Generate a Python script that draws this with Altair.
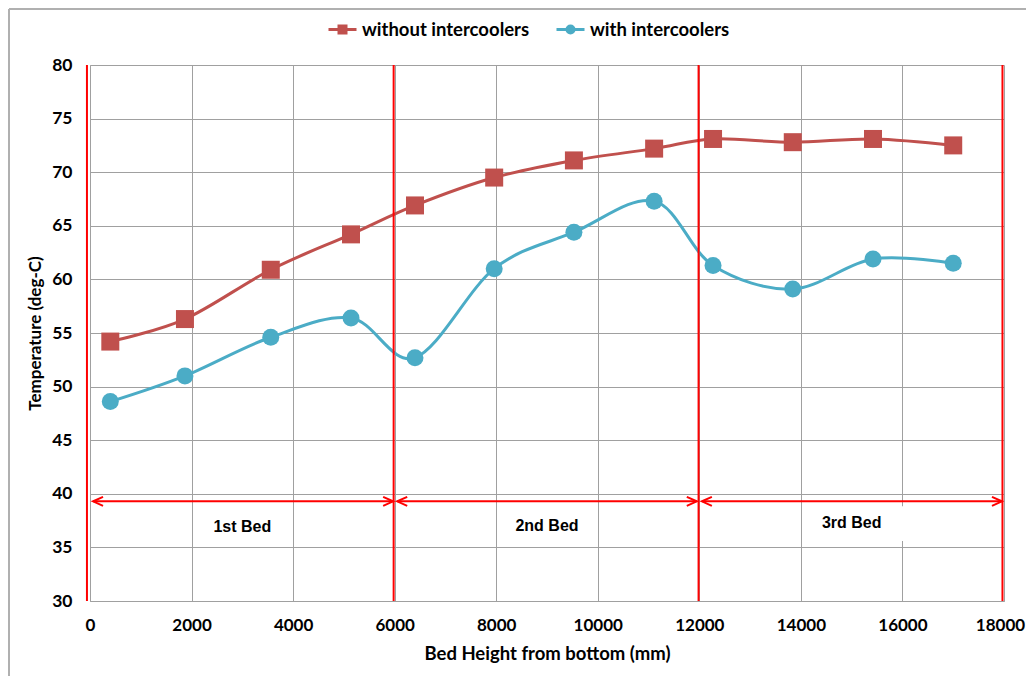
import altair as alt
import pandas as pd

# ---- data ----
height_mm = [400, 1870, 3560, 5140, 6400, 7960, 9530, 11110, 12270, 13840, 15420, 17000]
temp_without = [54.2, 56.3, 60.9, 64.2, 66.9, 69.5, 71.1, 72.2, 73.1, 72.8, 73.1, 72.5]
temp_with = [48.6, 51.0, 54.6, 56.4, 52.7, 61.0, 64.4, 67.3, 61.3, 59.1, 61.9, 61.5]
series_names = ["without intercoolers", "with intercoolers"]
series_colors = ["#C0504D", "#4BACC6"]

bed_bounds = [-60, 5980, 11985, 17970]
arrow_start = [60, 6050, 12050]
arrow_end = [5970, 11950, 17960]
arrow_level = 39.3
bed_labels = ["1st Bed", "2nd Bed", "3rd Bed"]
bed_label_x = [3000, 9000, 15000]
bed_label_y = [36.9, 37.0, 37.3]
box_x = [14250]
box_x2 = [16060]
box_y = [38.85]
box_y2 = [35.6]

x_ticks = list(range(0, 18001, 2000))
y_ticks = list(range(30, 81, 5))

# ---- tables ----
df = pd.DataFrame({
    "x": height_mm * 2,
    "y": temp_without + temp_with,
    "series": [series_names[0]] * len(height_mm) + [series_names[1]] * len(height_mm),
})
df_red = df[df.series == series_names[0]]
df_blue = df[df.series == series_names[1]]

df_bounds = pd.DataFrame({"x": bed_bounds, "y": [30] * 4, "y2": [80] * 4})
df_arrows = pd.DataFrame({"x": arrow_start, "x2": arrow_end, "y": [arrow_level] * 3})
df_labels = pd.DataFrame({"x": bed_label_x, "y": bed_label_y, "t": bed_labels})
df_box = pd.DataFrame({"x": box_x, "x2": box_x2, "y": box_y, "y2": box_y2})

GRID = "#A0A0A0"
RED = "#FF0000"

xs = alt.Scale(domain=[0, 18000], nice=False, zero=False)
ys = alt.Scale(domain=[30, 80], nice=False, zero=False)

x_axis = alt.Axis(values=x_ticks, format="d", title="Bed Height from bottom (mm)",
                  labelFont="Lato", labelFontWeight="bold", labelFontSize=17, labelColor="black",
                  labelPadding=16, labelFlush=False, labelOverlap=False, ticks=False,
                  labelOffset={"condition": {"test": "datum.value == 18000", "value": -4}, "value": 0},
                  domainColor=GRID, gridColor=GRID, gridWidth=1,
                  titleFont="Lato", titleFontWeight="bold", titleFontSize=18.5, titleColor="black",
                  titlePadding=11)
y_axis = alt.Axis(values=y_ticks, title="Temperature (deg-C)",
                  labelFont="Lato", labelFontWeight="bold", labelFontSize=17.5, labelColor="black",
                  labelPadding=18, labelFlush=False, labelOverlap=False, ticks=False,
                  domainColor=GRID, gridColor=GRID, gridWidth=1,
                  titleFont="Lato", titleFontWeight="bold", titleFontSize=17, titleColor="black",
                  titlePadding=7)

base_x = alt.X("x:Q", scale=xs, axis=x_axis)
base_y = alt.Y("y:Q", scale=ys, axis=y_axis)

axes_layer = alt.Chart(df).mark_point(opacity=0).encode(x=base_x, y=base_y)

frame_left = alt.Chart(df).mark_rule(color="#B0B0B0", strokeWidth=1.5).encode(
    x=alt.value(-81), y=alt.value(-56), y2=alt.value(700))
frame_top = alt.Chart(df).mark_rule(color="#B0B0B0", strokeWidth=1.5).encode(
    x=alt.value(-81), x2=alt.value(1000), y=alt.value(-56))

box = alt.Chart(df_box).mark_rect(color="white").encode(
    x=alt.X("x:Q", scale=xs), x2="x2", y=alt.Y("y:Q", scale=ys), y2="y2")

line_red = alt.Chart(df_red).mark_line(color=series_colors[0], strokeWidth=3, interpolate="cardinal").encode(
    x=alt.X("x:Q", scale=xs), y=alt.Y("y:Q", scale=ys))
line_blue = alt.Chart(df_blue).mark_line(color=series_colors[1], strokeWidth=3, interpolate="cardinal").encode(
    x=alt.X("x:Q", scale=xs), y=alt.Y("y:Q", scale=ys))
pts_red = alt.Chart(df_red).mark_point(shape="square", filled=True, opacity=1, size=324,
                                       color=series_colors[0]).encode(
    x=alt.X("x:Q", scale=xs), y=alt.Y("y:Q", scale=ys))
pts_blue = alt.Chart(df_blue).mark_point(shape="circle", filled=True, opacity=1, size=289,
                                         color=series_colors[1]).encode(
    x=alt.X("x:Q", scale=xs), y=alt.Y("y:Q", scale=ys))

bounds = alt.Chart(df_bounds).mark_rule(color=RED, strokeWidth=2).encode(
    x=alt.X("x:Q", scale=xs), y=alt.Y("y:Q", scale=ys), y2="y2")
arrows = alt.Chart(df_arrows).mark_rule(color=RED, strokeWidth=2).encode(
    x=alt.X("x:Q", scale=xs), x2="x2", y=alt.Y("y:Q", scale=ys))
heads_left = alt.Chart(df_arrows).mark_point(shape="M1,-0.45L0,0L1,0.45", filled=False, size=400,
                                             strokeWidth=2, color=RED, opacity=1).encode(
    x=alt.X("x:Q", scale=xs), y=alt.Y("y:Q", scale=ys))
heads_right = alt.Chart(df_arrows).mark_point(shape="M-1,-0.45L0,0L-1,0.45", filled=False, size=400,
                                              strokeWidth=2, color=RED, opacity=1).encode(
    x=alt.X("x2:Q", scale=xs), y=alt.Y("y:Q", scale=ys))

labels = alt.Chart(df_labels).mark_text(font="Liberation Sans", fontWeight="bold", fontSize=16,
                                        color="black", baseline="middle", align="center").encode(
    x=alt.X("x:Q", scale=xs), y=alt.Y("y:Q", scale=ys), text="t:N")

legend_paths = [
    "M-1,0L1,0M-0.25,-0.25L0.25,-0.25L0.25,0.25L-0.25,0.25Z",
    "M-1,0L1,0M0.25,0A0.25,0.25,0,1,1,-0.25,0A0.25,0.25,0,1,1,0.25,0Z",
]
leg = alt.Legend(orient="none", legendX=237, legendY=-51, direction="horizontal", title=None,
                 symbolSize=784, symbolStrokeWidth=3, symbolOpacity=1,
                 labelFont="Lato", labelFontWeight="bold", labelFontSize=18.5, labelColor="black",
                 labelOffset=4, labelLimit=400, columnPadding=20, padding=0)
color_scale = alt.Scale(domain=series_names, range=series_colors)
legend_layer = alt.Chart(df).mark_point(filled=True, opacity=0).encode(
    x=alt.X("x:Q", scale=xs), y=alt.Y("y:Q", scale=ys),
    color=alt.Color("series:N", scale=color_scale, legend=leg),
    stroke=alt.Stroke("series:N", scale=color_scale, legend=leg),
    shape=alt.Shape("series:N", scale=alt.Scale(domain=series_names, range=legend_paths), legend=leg),
)

chart = alt.layer(
    axes_layer, frame_left, frame_top, box, line_red, line_blue, pts_red, pts_blue,
    bounds, arrows, heads_left, heads_right, labels, legend_layer
).properties(
    width=914, height=536,
    padding={"left": 82, "top": 57, "right": 22, "bottom": 75},
    autosize=alt.AutoSizeParams(type="none"),
    background="white",
).configure_view(stroke=None)

chart.save("out.html", embed_options={"renderer": "svg", "actions": False})
